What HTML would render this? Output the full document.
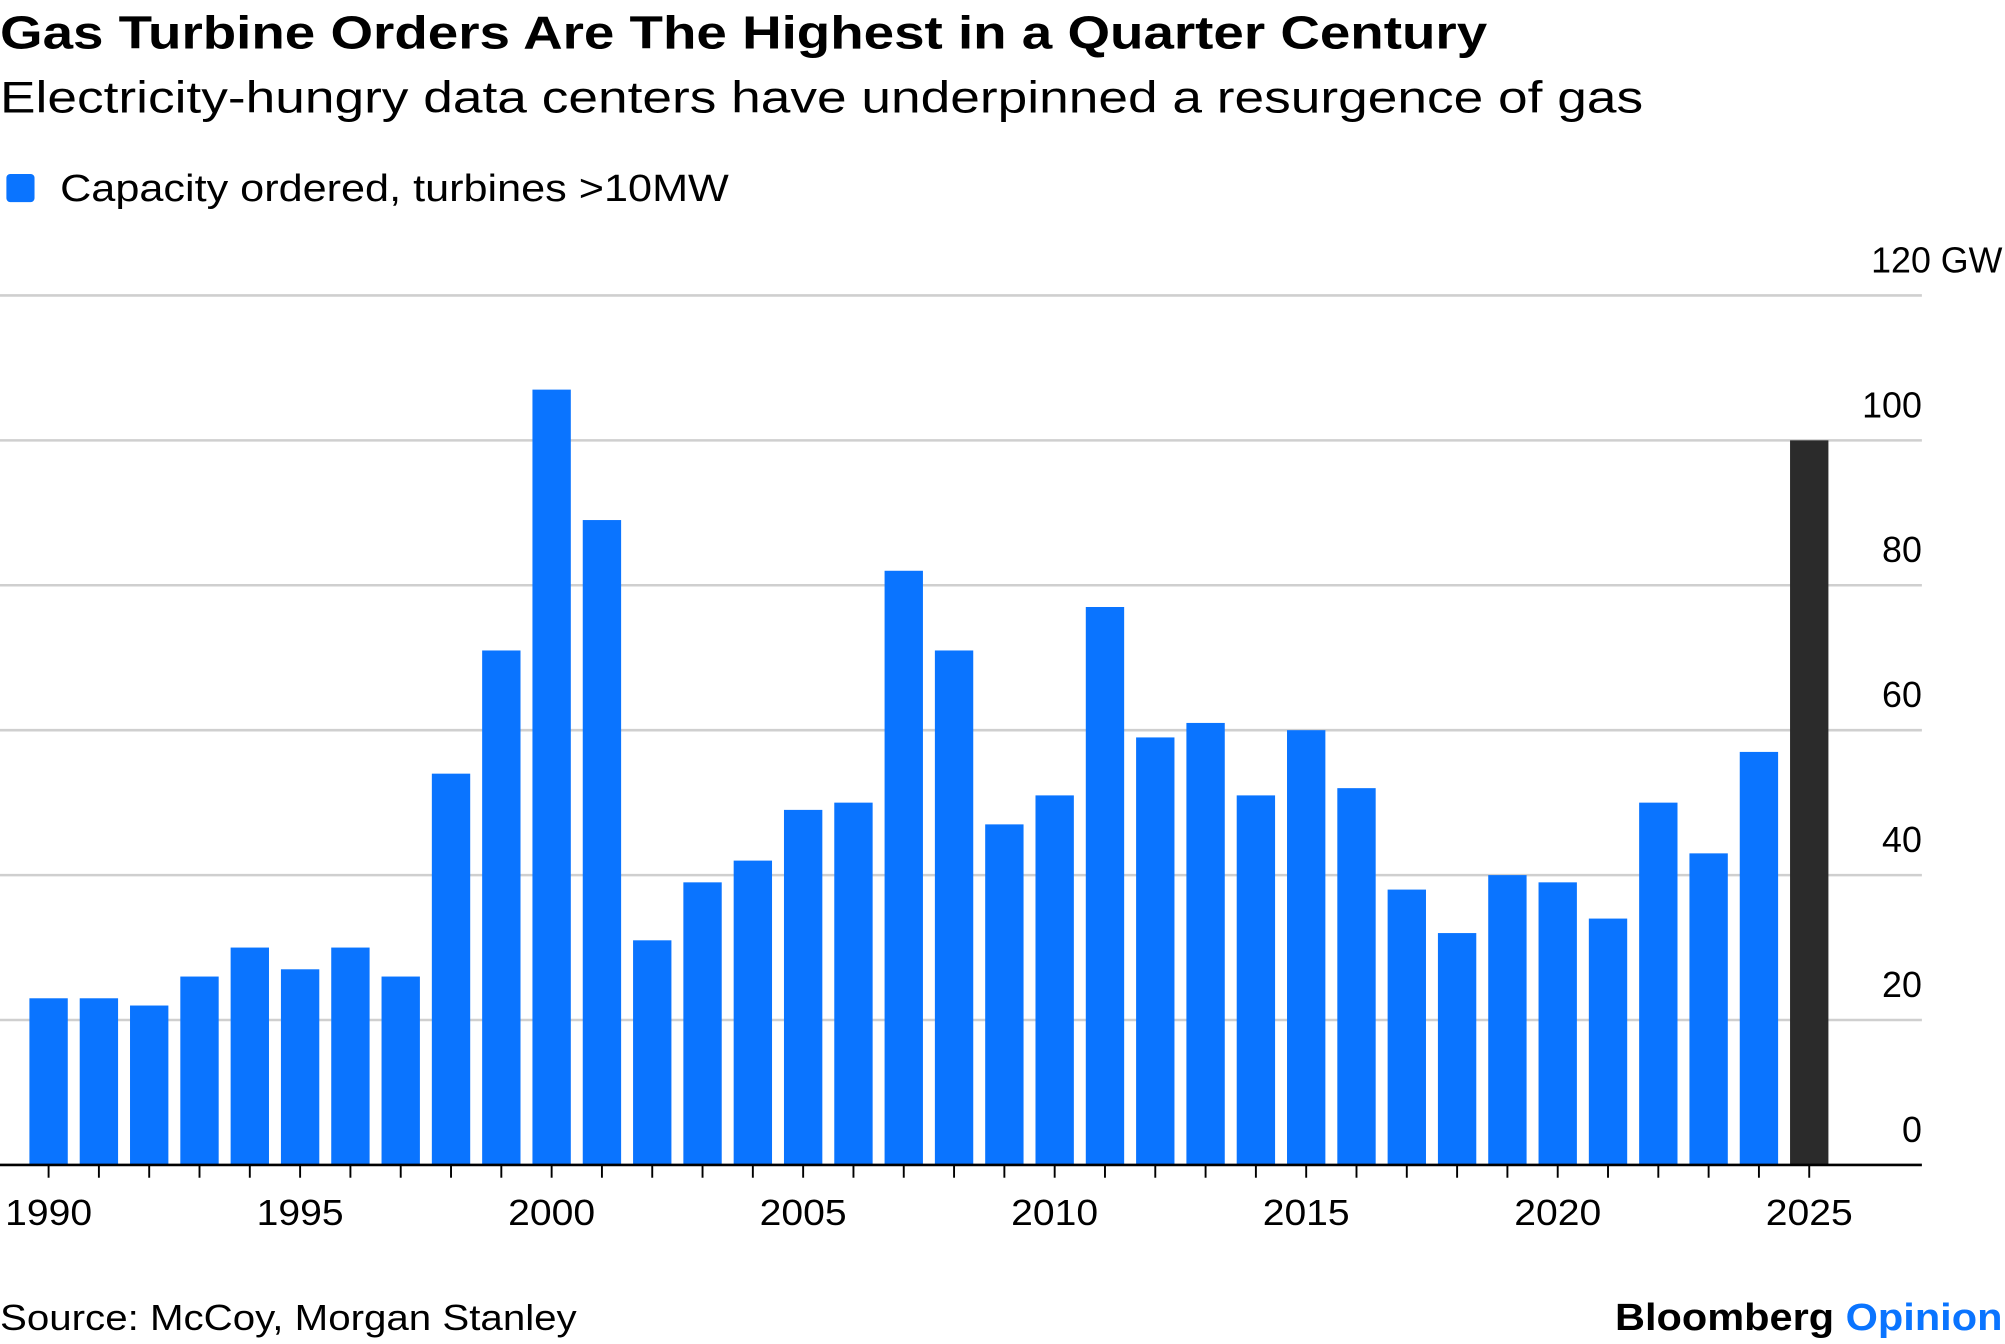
<!DOCTYPE html>
<html><head><meta charset="utf-8"><style>
html,body{margin:0;padding:0;background:#fff;}
svg{display:block;font-family:"Liberation Sans",sans-serif;}
</style></head><body>
<svg id="chart" width="2005" height="1344" viewBox="0 0 1568 1051" xmlns="http://www.w3.org/2000/svg">
<text x="0" y="38" font-size="36" font-weight="bold" fill="#000" textLength="1163" lengthAdjust="spacingAndGlyphs">Gas Turbine Orders Are The Highest in a Quarter Century</text>
<text x="0" y="88" font-size="35" fill="#000" textLength="1285" lengthAdjust="spacingAndGlyphs">Electricity-hungry data centers have underpinned a resurgence of gas</text>
<rect x="5" y="136" width="22" height="22" rx="3" fill="#0a74ff"/>
<text x="47" y="157" font-size="30" fill="#000" textLength="523" lengthAdjust="spacingAndGlyphs">Capacity ordered, turbines &gt;10MW</text>
<g id="grid"></g><g id="bars"></g><g id="axis"></g>
<text x="0" y="1040" font-size="28" fill="#000" textLength="451" lengthAdjust="spacingAndGlyphs">Source: McCoy, Morgan Stanley</text>
<text x="1263" y="1040" font-size="30" font-weight="bold" fill="#000" textLength="303" lengthAdjust="spacingAndGlyphs">Bloomberg <tspan fill="#0a74ff">Opinion</tspan></text>
</svg>
<script>
const years = [1990,1991,1992,1993,1994,1995,1996,1997,1998,1999,2000,2001,2002,2003,2004,2005,2006,2007,2008,2009,2010,2011,2012,2013,2014,2015,2016,2017,2018,2019,2020,2021,2022,2023,2024,2025];
const values = [23,23,22,26,30,27,30,26,54,71,107,89,31,39,42,49,50,82,71,47,51,77,59,61,51,60,52,38,32,40,39,34,50,43,57,100];
const yTicks = [0,20,40,60,80,100,120];
const yTickLabels = ["0","20","40","60","80","100","120 GW"];
const xLabelYears = [1990,1995,2000,2005,2010,2015,2020,2025];
const ns="http://www.w3.org/2000/svg";
const y0=911, pxPer=(911-231)/120;
const yS=v=>y0-v*pxPer;
const xS=yr=>38+(yr-1990)*39.34;
const bw=30;
const grid=document.getElementById('grid'), bars=document.getElementById('bars'), axis=document.getElementById('axis');
function mk(tag,a,parent){const e=document.createElementNS(ns,tag);for(const k in a)e.setAttribute(k,a[k]);parent.appendChild(e);return e;}
yTicks.forEach((t,i)=>{
  if(t>0){const l=mk('line',{x1:0,x2:1503,y1:yS(t),y2:yS(t),stroke:'#cfcfcf','stroke-width':2},grid);
  
  }
  const tx=mk('text',{x:1503,y:yS(t)-18,'font-size':28,'text-anchor':'end',fill:'#000'},grid);
  if(i===yTicks.length-1){tx.setAttribute('x',1566);}
  tx.textContent=yTickLabels[i];
  
  
});
years.forEach((yr,i)=>{
  const r=mk('rect',{x:xS(yr)-bw/2,y:yS(values[i]),width:bw,height:y0-yS(values[i]),fill:yr===2025?'#2b2b2b':'#0a74ff'},bars);
  
  
  const tk=mk('line',{x1:xS(yr),x2:xS(yr),y1:y0,y2:y0+10,stroke:'#000','stroke-width':1.5},axis);
  
  
});
const base=mk('line',{x1:0,x2:1503,y1:y0,y2:y0,stroke:'#000','stroke-width':2},axis);


xLabelYears.forEach(yr=>{
  const t=mk('text',{x:xS(yr)-34,y:958,'font-size':28,fill:'#000',textLength:68,lengthAdjust:'spacingAndGlyphs'},axis);
  t.textContent=yr;
  
  
});
</script>
</body></html>
